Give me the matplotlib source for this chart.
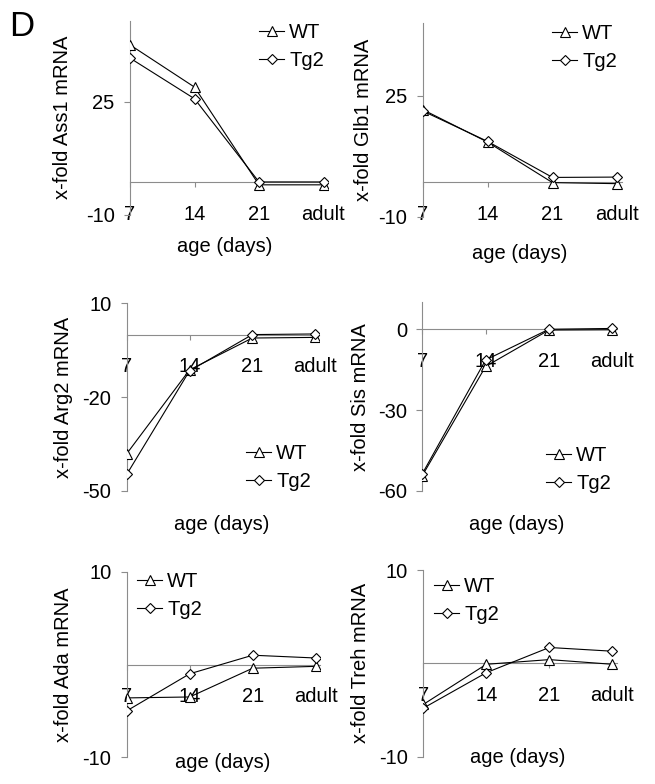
import matplotlib
matplotlib.use('Agg')
import matplotlib.pyplot as plt

plt.rcParams['font.family'] = ['Liberation Sans', 'DejaVu Sans']
plt.rcParams['axes.unicode_minus'] = False

W, H = 655, 784
FS = 14.5

ages = ['7', '14', '21', 'adult']

genes = ['Ass1', 'Glb1', 'Arg2', 'Sis', 'Ada', 'Treh']
wt_vals = {
    'Ass1': [42.6, 29.5, -0.8, -0.8],
    'Glb1': [21.0, 11.6, -0.1, -0.4],
    'Arg2': [-38.1, -11.3, -1.1, -0.9],
    'Sis': [-54.3, -13.8, -0.3, -0.2],
    'Ada': [-3.6, -3.5, -0.4, -0.2],
    'Treh': [-4.4, -0.1, 0.4, -0.1],
}
tg2_vals = {
    'Ass1': [38.5, 25.9, 0.1, 0.1],
    'Glb1': [20.6, 11.8, 1.4, 1.5],
    'Arg2': [-44.7, -11.6, 0.0, 0.2],
    'Sis': [-53.6, -11.4, 0.0, 0.3],
    'Ada': [-5.0, -1.0, 1.0, 0.7],
    'Treh': [-4.8, -1.0, 1.7, 1.3],
}
y_limits = {
    'Ass1': (-10, 50), 'Glb1': (-10, 46), 'Arg2': (-50, 10),
    'Sis': (-60, 10), 'Ada': (-10, 10), 'Treh': (-10, 10),
}
y_ticks = {
    'Ass1': [-10, 25], 'Glb1': [-10, 25], 'Arg2': [-50, -20, 10],
    'Sis': [-60, -30, 0], 'Ada': [-10, 10], 'Treh': [-10, 10],
}

# pixel layout: left, top, bottom, category spacing
layout = {
    'Ass1': (130, 21, 214.5, 64.5),
    'Glb1': (422.7, 23, 216.9, 64.9),
    'Arg2': (126.7, 303.3, 491, 62.8),
    'Sis': (422.3, 302.3, 491, 63.3),
    'Ada': (126.7, 571.7, 757.3, 63.0),
    'Treh': (423.3, 570, 756.7, 63.0),
}
ylab_off = {'Ass1': 67, 'Glb1': 59, 'Arg2': 63, 'Sis': 62, 'Ada': 63, 'Treh': 63}
xlab_pos = {
    'Ass1': (225, 246.7), 'Glb1': (520, 253.3), 'Arg2': (221.7, 525),
    'Sis': (516.7, 525), 'Ada': (222.7, 762.7), 'Treh': (517.7, 757.3),
}
# legend anchor (handle start x, top y) in pixels
leg_pos = {
    'Ass1': (259, 23), 'Glb1': (552, 24), 'Arg2': (246, 444),
    'Sis': (546, 446), 'Ada': (137, 572), 'Treh': (434, 577),
}

XMAX = 3.07
gray = '#8c8c8c'

fig = plt.figure(figsize=(W / 100, H / 100), dpi=100)

for g in genes:
    L, T, B, sp = layout[g]
    wpx = XMAX * sp
    ax = fig.add_axes([L / W, 1 - B / H, wpx / W, (B - T) / H])
    x = range(len(ages))
    ax.plot(x, wt_vals[g], color='black', lw=0.8, marker='^', ms=7.5,
            mfc='white', mec='black', mew=0.8, label='WT', zorder=3)
    ax.plot(x, tg2_vals[g], color='black', lw=0.8, marker='D', ms=5.4,
            mfc='white', mec='black', mew=0.8, label='Tg2', zorder=4)
    ax.set_xlim(0, XMAX)
    ax.set_ylim(*y_limits[g])
    ax.set_yticks(y_ticks[g])
    ax.set_xticks(list(x))
    ax.set_xticklabels(ages)
    for s in ['top', 'right']:
        ax.spines[s].set_visible(False)
    ax.spines['bottom'].set_position(('data', 0))
    ax.spines['bottom'].set_color(gray)
    ax.spines['bottom'].set_linewidth(0.8)
    ax.spines['left'].set_color(gray)
    ax.spines['left'].set_linewidth(0.8)
    ax.spines['bottom'].set_zorder(1)
    ax.tick_params(axis='y', direction='out', length=4.5, width=0.8,
                   color=gray, labelsize=FS, pad=6.5)
    ax.tick_params(axis='x', direction='out', length=3.6, width=0.8,
                   color=gray, labelsize=FS, pad=12.5)
    ax.patch.set_visible(False)

    ax.set_ylabel('x-fold %s mRNA' % g, fontsize=FS)
    ax.yaxis.label.set(va='center', ha='center')
    ax.yaxis.set_label_coords(-ylab_off[g] / wpx, 0.5)

    ax.set_xlabel('age (days)', fontsize=FS)
    ax.xaxis.label.set(va='center', ha='center')
    lx, ly = xlab_pos[g]
    ax.xaxis.set_label_coords(lx / W, 1 - ly / H, transform=fig.transFigure)

    ax.legend(loc='upper left', bbox_to_anchor=(leg_pos[g][0] / W, 1 - leg_pos[g][1] / H),
              bbox_transform=fig.transFigure, frameon=False, fontsize=FS,
              handlelength=1.25, handletextpad=0.25, labelspacing=0.45,
              borderpad=0, borderaxespad=0)

fig.text(9 / W, 1 - 10 / H, 'D', fontsize=25, ha='left', va='top')

fig.savefig('out.png', dpi=100)
